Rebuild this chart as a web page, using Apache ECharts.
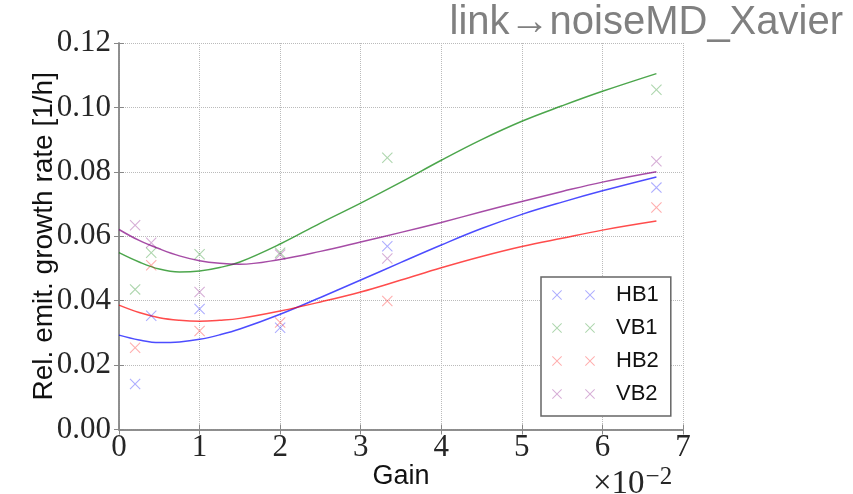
<!DOCTYPE html>
<html><head><meta charset="utf-8">
<script src="https://cdn.jsdelivr.net/npm/echarts@6/dist/echarts.min.js"></script>
<style>html,body{margin:0;padding:0;background:#fff}#c{width:853px;height:494px}</style>
</head><body><div id="c"></div>
<script>
// measured points (gain in units of 1e-2)
const gainPoints = [0.2, 0.4, 1, 2, 3.33, 6.67];
const hb1Points = [0.0141, 0.0353, 0.0374, 0.0316, 0.0569, 0.0751];
const vb1Points = [0.0435, 0.0549, 0.0544, 0.0549, 0.0844, 0.1055];
const hb2Points = [0.0254, 0.0510, 0.0306, 0.0332, 0.0399, 0.0689];
const vb2Points = [0.0634, 0.0580, 0.0427, 0.0543, 0.0531, 0.0833];
// fitted curves
const fitGain = [0, 0.25, 0.5, 0.75, 1, 1.25, 1.5, 2, 2.5, 3, 3.5, 4, 4.5, 5, 5.5, 6, 6.67];
const hb1Fit = [0.0293, 0.0278, 0.0270, 0.0272, 0.0280, 0.0294, 0.0312, 0.0358, 0.0410, 0.0464, 0.0519, 0.0573, 0.0624, 0.0668, 0.0706, 0.0741, 0.0784];
const vb1Fit = [0.0549, 0.0520, 0.0498, 0.0489, 0.0492, 0.0503, 0.0520, 0.0576, 0.0641, 0.0703, 0.0768, 0.0836, 0.0900, 0.0957, 0.1005, 0.1050, 0.1105];
const hb2Fit = [0.0386, 0.0363, 0.0347, 0.0339, 0.0336, 0.0339, 0.0345, 0.0368, 0.0396, 0.0427, 0.0464, 0.0502, 0.0537, 0.0568, 0.0594, 0.0619, 0.0647];
const vb2Fit = [0.0621, 0.0587, 0.0561, 0.0539, 0.0524, 0.0516, 0.0513, 0.0528, 0.0553, 0.0582, 0.0612, 0.0643, 0.0676, 0.0708, 0.0739, 0.0768, 0.0800];
const seriesNames = ['HB1', 'VB1', 'HB2', 'VB2'];
const xTicks = [0, 1, 2, 3, 4, 5, 6, 7];
const yTicks = [0.00, 0.02, 0.04, 0.06, 0.08, 0.10, 0.12];

const pointSets = [hb1Points, vb1Points, hb2Points, vb2Points];
const fitSets = [hb1Fit, vb1Fit, hb2Fit, vb2Fit];
const markerColors = ['rgba(0,0,255,0.4)', 'rgba(0,128,0,0.4)', 'rgba(255,0,0,0.4)', 'rgba(128,0,128,0.4)'];
const lineColors = ['rgba(0,0,255,0.7)', 'rgba(0,128,0,0.7)', 'rgba(255,0,0,0.7)', 'rgba(128,0,128,0.7)'];

function xPath(ox) {
  const p = [[0,0.7],[0.7,0],[5,4.3],[9.3,0],[10,0.7],[5.7,5],[10,9.3],[9.3,10],[5,5.7],[0.7,10],[0,9.3],[4.3,5]];
  return p.map((q, i) => (i ? 'L' : 'M') + (q[0] + ox) + ',' + q[1]).join(' ') + ' Z';
}
const crossSymbol = 'path://' + xPath(0);
const legendIcon = 'path://' + xPath(0) + ' ' + xPath(33);

const frame = { show: true, lineStyle: { color: '#888', width: 1.5 } };
const tick = { show: true, inside: true, length: 5, lineStyle: { color: '#888', width: 1 } };
const grid = { show: true, lineStyle: { color: '#bbb', type: 'dotted', width: 1 } };
const serif = 'Liberation Serif';
const sans = 'Liberation Sans';

const series = [];
seriesNames.forEach((n, i) => {
  series.push({
    name: n + ' fit', type: 'line', data: fitGain.map((g, j) => [g, fitSets[i][j]]),
    smooth: 0.4, showSymbol: false, symbol: 'none', lineStyle: { color: lineColors[i], width: 1.5 },
    itemStyle: { color: lineColors[i] }, z: 2, silent: true
  });
});
seriesNames.forEach((n, i) => {
  series.push({
    name: n, type: 'scatter', data: gainPoints.map((g, j) => [g, pointSets[i][j]]),
    symbol: crossSymbol, symbolSize: 11, itemStyle: { color: markerColors[i] }, z: 3
  });
});

const chart = echarts.init(document.getElementById('c'));
chart.setOption({
  animation: false,
  backgroundColor: '#fff',
  grid: { left: 119, right: 170, top: 43, bottom: 64.5, containLabel: false, outerBoundsMode: 'none' },
  xAxis: [{
    type: 'value', min: xTicks[0], max: xTicks[xTicks.length - 1], interval: 1,
    axisLine: frame, axisTick: tick, splitLine: grid,
    name: 'Gain', nameLocation: 'middle', nameGap: 34, nameMoveOverlap: false,
    nameTextStyle: { fontFamily: sans, fontSize: 27, color: '#111', verticalAlign: 'top' },
    axisLabel: { margin: 3, fontFamily: serif, fontSize: 31, color: '#262626' }
  }, {
    type: 'value', position: 'top', min: xTicks[0], max: xTicks[xTicks.length - 1], interval: 1,
    axisLine: frame, axisTick: tick, splitLine: { show: false }, axisLabel: { show: false }
  }],
  yAxis: [{
    type: 'value', min: yTicks[0], max: yTicks[yTicks.length - 1], interval: 0.02,
    axisLine: frame, axisTick: tick, splitLine: grid,
    name: 'Rel. emit. growth rate [1/h]', nameLocation: 'middle', nameGap: 61, nameMoveOverlap: false,
    nameTextStyle: { fontFamily: sans, fontSize: 28, color: '#111' },
    axisLabel: { margin: 8, fontFamily: serif, fontSize: 31, color: '#262626', formatter: v => v.toFixed(2) }
  }, {
    type: 'value', position: 'right', min: yTicks[0], max: yTicks[yTicks.length - 1], interval: 0.02,
    axisLine: frame, axisTick: tick, splitLine: { show: false }, axisLabel: { show: false }
  }],
  legend: {
    data: seriesNames, orient: 'vertical', left: 541, top: 277,
    padding: [7, 12, 11, 11], itemGap: 11, itemWidth: 43, itemHeight: 10,
    icon: legendIcon, borderColor: '#666', borderWidth: 1.5, backgroundColor: '#fff',
    textStyle: { fontFamily: sans, fontSize: 22, color: '#111', padding: [0, 0, 0, 16] },
    selectedMode: false
  },
  graphic: [{
    type: 'text', right: 10, top: 3,
    style: { text: 'link\u2192noiseMD_Xavier', font: '40px "Liberation Sans"', fill: '#808080' }
  }, {
    type: 'text', left: 593, top: 465,
    style: {
      text: '{a|\u00d710}{b|\u22122}',
      rich: {
        a: { font: '33px "Liberation Serif"', fill: '#262626' },
        b: { font: '25px "Liberation Serif"', fill: '#262626', padding: [0, 0, 14, 1] }
      }
    }
  }],
  series: series
});
</script></body></html>
